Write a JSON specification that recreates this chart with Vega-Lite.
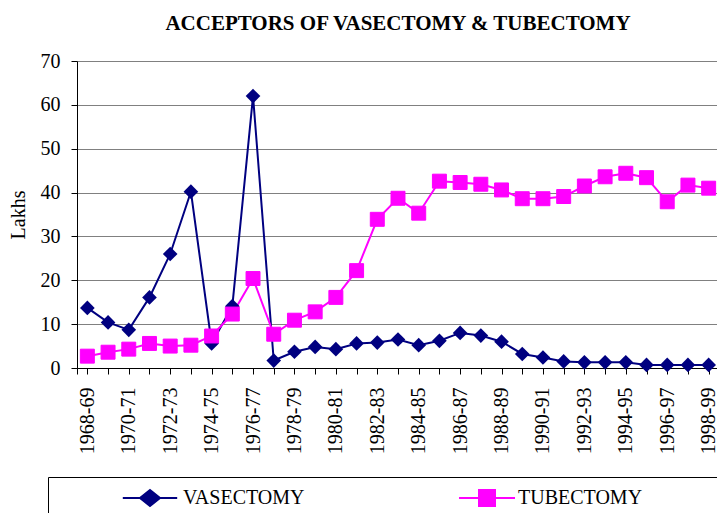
{
  "$schema": "https://vega.github.io/schema/vega-lite/v6.json",
  "width": 642,
  "height": 307,
  "autosize": {"type": "none"},
  "padding": {"left": 77, "top": 61, "right": 0, "bottom": 145},
  "background": "white",
  "title": {
    "text": "ACCEPTORS OF VASECTOMY & TUBECTOMY",
    "font": "Liberation Serif",
    "fontSize": 21,
    "fontWeight": "bold",
    "color": "black",
    "anchor": "middle",
    "offset": 17
  },
  "config": {
    "view": {"stroke": null},
    "font": "Liberation Serif"
  },
  "data": {
    "values": [
      {"year": "1968-69", "series": "VASECTOMY", "value": 13.7},
      {"year": "1969-70", "series": "VASECTOMY", "value": 10.4},
      {"year": "1970-71", "series": "VASECTOMY", "value": 8.7},
      {"year": "1971-72", "series": "VASECTOMY", "value": 16.1},
      {"year": "1972-73", "series": "VASECTOMY", "value": 26.0},
      {"year": "1973-74", "series": "VASECTOMY", "value": 40.2},
      {"year": "1974-75", "series": "VASECTOMY", "value": 5.6},
      {"year": "1975-76", "series": "VASECTOMY", "value": 14.1},
      {"year": "1976-77", "series": "VASECTOMY", "value": 62.0},
      {"year": "1977-78", "series": "VASECTOMY", "value": 1.7},
      {"year": "1978-79", "series": "VASECTOMY", "value": 3.7},
      {"year": "1979-80", "series": "VASECTOMY", "value": 4.8},
      {"year": "1980-81", "series": "VASECTOMY", "value": 4.3},
      {"year": "1981-82", "series": "VASECTOMY", "value": 5.6},
      {"year": "1982-83", "series": "VASECTOMY", "value": 5.8},
      {"year": "1983-84", "series": "VASECTOMY", "value": 6.5},
      {"year": "1984-85", "series": "VASECTOMY", "value": 5.2},
      {"year": "1985-86", "series": "VASECTOMY", "value": 6.2},
      {"year": "1986-87", "series": "VASECTOMY", "value": 8.0},
      {"year": "1987-88", "series": "VASECTOMY", "value": 7.4},
      {"year": "1988-89", "series": "VASECTOMY", "value": 6.0},
      {"year": "1989-90", "series": "VASECTOMY", "value": 3.2},
      {"year": "1990-91", "series": "VASECTOMY", "value": 2.4},
      {"year": "1991-92", "series": "VASECTOMY", "value": 1.5},
      {"year": "1992-93", "series": "VASECTOMY", "value": 1.3},
      {"year": "1993-94", "series": "VASECTOMY", "value": 1.3},
      {"year": "1994-95", "series": "VASECTOMY", "value": 1.3},
      {"year": "1995-96", "series": "VASECTOMY", "value": 0.7},
      {"year": "1996-97", "series": "VASECTOMY", "value": 0.7},
      {"year": "1997-98", "series": "VASECTOMY", "value": 0.7},
      {"year": "1998-99", "series": "VASECTOMY", "value": 0.7},
      {"year": "1968-69", "series": "TUBECTOMY", "value": 2.7},
      {"year": "1969-70", "series": "TUBECTOMY", "value": 3.6},
      {"year": "1970-71", "series": "TUBECTOMY", "value": 4.3},
      {"year": "1971-72", "series": "TUBECTOMY", "value": 5.6},
      {"year": "1972-73", "series": "TUBECTOMY", "value": 5.0},
      {"year": "1973-74", "series": "TUBECTOMY", "value": 5.2},
      {"year": "1974-75", "series": "TUBECTOMY", "value": 7.3},
      {"year": "1975-76", "series": "TUBECTOMY", "value": 12.3},
      {"year": "1976-77", "series": "TUBECTOMY", "value": 20.4},
      {"year": "1977-78", "series": "TUBECTOMY", "value": 7.7},
      {"year": "1978-79", "series": "TUBECTOMY", "value": 10.9},
      {"year": "1979-80", "series": "TUBECTOMY", "value": 12.8},
      {"year": "1980-81", "series": "TUBECTOMY", "value": 16.1},
      {"year": "1981-82", "series": "TUBECTOMY", "value": 22.2},
      {"year": "1982-83", "series": "TUBECTOMY", "value": 33.9},
      {"year": "1983-84", "series": "TUBECTOMY", "value": 38.7},
      {"year": "1984-85", "series": "TUBECTOMY", "value": 35.3},
      {"year": "1985-86", "series": "TUBECTOMY", "value": 42.6},
      {"year": "1986-87", "series": "TUBECTOMY", "value": 42.3},
      {"year": "1987-88", "series": "TUBECTOMY", "value": 41.9},
      {"year": "1988-89", "series": "TUBECTOMY", "value": 40.6},
      {"year": "1989-90", "series": "TUBECTOMY", "value": 38.6},
      {"year": "1990-91", "series": "TUBECTOMY", "value": 38.6},
      {"year": "1991-92", "series": "TUBECTOMY", "value": 39.1},
      {"year": "1992-93", "series": "TUBECTOMY", "value": 41.5},
      {"year": "1993-94", "series": "TUBECTOMY", "value": 43.6},
      {"year": "1994-95", "series": "TUBECTOMY", "value": 44.4},
      {"year": "1995-96", "series": "TUBECTOMY", "value": 43.4},
      {"year": "1996-97", "series": "TUBECTOMY", "value": 37.9},
      {"year": "1997-98", "series": "TUBECTOMY", "value": 41.7},
      {"year": "1998-99", "series": "TUBECTOMY", "value": 41.0}
    ]
  },
  "encoding": {
    "x": {
      "field": "year",
      "type": "ordinal",
      "sort": null,
      "scale": {"paddingInner": 0, "paddingOuter": 0},
      "axis": {
        "title": null,
        "labelAngle": -90,
        "labelFont": "Liberation Serif",
        "labelFontSize": 20,
        "labelColor": "black",
        "labelPadding": 13,
        "labelOverlap": false,
        "labelExpr": "toNumber(substring(datum.value,0,4)) % 2 == 0 ? datum.value : ''",
        "bandPosition": 0,
        "tickExtra": true,
        "ticks": true,
        "tickSize": 6,
        "tickColor": "black",
        "domainColor": "black",
        "domainWidth": 1,
        "grid": false
      }
    },
    "y": {
      "field": "value",
      "type": "quantitative",
      "scale": {"domain": [0, 70], "nice": false},
      "axis": {
        "title": "Lakhs",
        "titleFont": "Liberation Serif",
        "titleFontSize": 20,
        "titleFontWeight": "normal",
        "titleColor": "black",
        "titlePadding": 12,
        "values": [0, 10, 20, 30, 40, 50, 60, 70],
        "labelFont": "Liberation Serif",
        "labelFontSize": 20,
        "labelColor": "black",
        "labelPadding": 11,
        "tickSize": 6,
        "tickColor": "black",
        "domainColor": "black",
        "grid": true,
        "gridColor": "#808080",
        "gridWidth": 1.2
      }
    }
  },
  "layer": [
    {
      "mark": {"type": "line", "strokeWidth": 2},
      "encoding": {
        "color": {
          "field": "series",
          "type": "nominal",
          "scale": {"domain": ["VASECTOMY", "TUBECTOMY"], "range": ["#000080", "#FF00FF"]},
          "legend": null
        }
      }
    },
    {
      "transform": [{"filter": "datum.series === 'VASECTOMY'"}],
      "mark": {"type": "point", "filled": true, "opacity": 1, "size": 215, "shape": "diamond"},
      "encoding": {
        "fill": {
          "field": "series",
          "type": "nominal",
          "scale": {"domain": ["VASECTOMY"], "range": ["#000080"]},
          "legend": {
            "title": " ",
            "titleOrient": "right",
            "titlePadding": 420,
            "titleFontSize": 20,
            "orient": "none",
            "direction": "horizontal",
            "legendX": -29,
            "legendY": 416,
            "strokeColor": "black",
            "padding": 11,
            "symbolType": "M-3.4,0H3.4M0,-1L1.25,0L0,1L-1.25,0Z",
            "symbolSize": 256,
            "symbolStrokeWidth": 2,
            "symbolStrokeColor": "#000080",
            "symbolOpacity": 1,
            "labelFont": "Liberation Serif",
            "labelFontSize": 20,
            "labelColor": "black",
            "symbolOffset": 81,
            "labelOffset": 23
          }
        }
      }
    },
    {
      "transform": [{"filter": "datum.series === 'TUBECTOMY'"}],
      "mark": {"type": "point", "filled": true, "opacity": 1, "size": 195, "shape": "square", "fill": "#FF00FF", "strokeWidth": 1},
      "encoding": {
        "stroke": {
          "field": "series",
          "type": "nominal",
          "scale": {"domain": ["TUBECTOMY"], "range": ["#FF00FF"]},
          "legend": {
            "title": null,
            "orient": "none",
            "direction": "horizontal",
            "legendX": 400,
            "legendY": 427,
            "padding": 0,
            "symbolType": "M-3.5,0H3.5M-1,-1H1V1H-1Z",
            "symbolSize": 256,
            "symbolStrokeWidth": 2,
            "symbolFillColor": "#FF00FF",
            "symbolOpacity": 1,
            "labelFont": "Liberation Serif",
            "labelFontSize": 20,
            "labelColor": "black",
            "symbolOffset": 0,
            "labelOffset": 21
          }
        }
      }
    }
  ]
}
